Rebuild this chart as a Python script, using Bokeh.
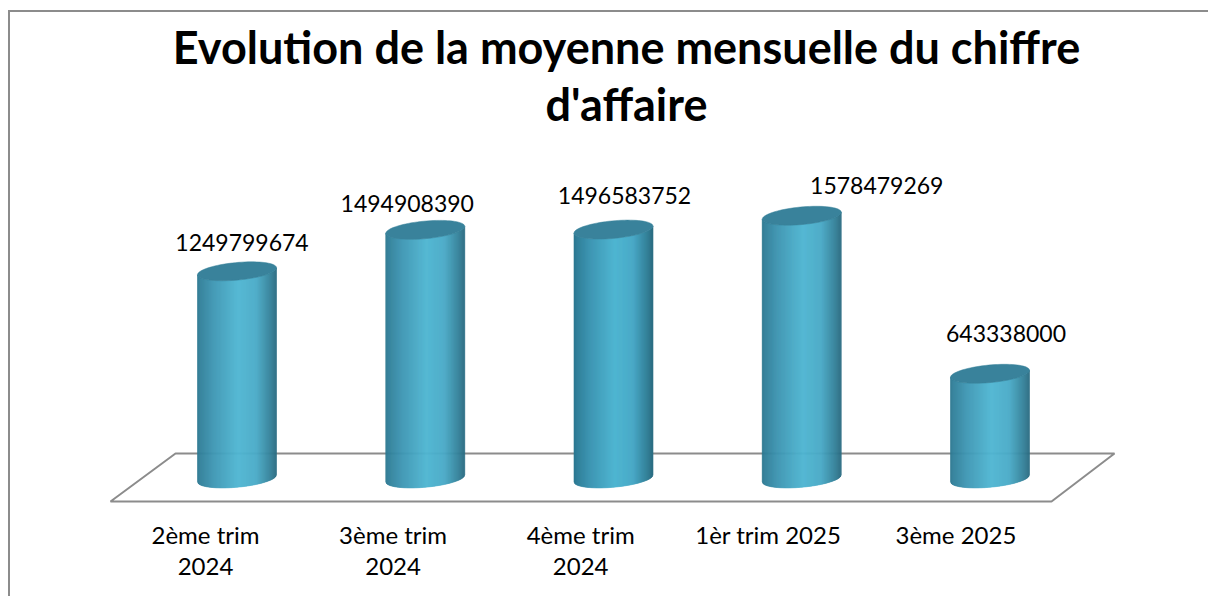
from bokeh.embed import file_html
from bokeh.resources import INLINE
from bokeh.plotting import figure
from bokeh.models import Range1d, FixedTicker, PolyAnnotation, ColumnDataSource, Title
from bokeh.core.properties import value
import numpy as np

# --- data ---
categories = ["2ème trim\n2024", "3ème trim\n2024", "4ème trim\n2024", "1èr trim 2025", "3ème 2025"]
values = [1249799674, 1494908390, 1496583752, 1578479269, 643338000]
title_lines = ["Evolution de la moyenne mensuelle du chiffre", "d'affaire"]

# --- label placement (px offsets from the top of each cylinder) ---
label_dx = [5, -18, 11, 75, 16]
label_dy = [29, 26, 34, 30, 40]

# --- layout ---
W, H = 1208, 596
FONT = "Lato"
ML, MT, MB = 44, 130, 92
PX_PER_CAT = 187.6
BAR_SPREAD = 188.25 / 187.6
PX_PER_VAL = 0.169e-6
x0 = -(205 - ML) / PX_PER_CAT
x1 = x0 + (W - ML) / PX_PER_CAT
y_base_px = 482
y_top = (y_base_px - MT) / PX_PER_VAL
y_bot = (y_base_px - (H - MB)) / PX_PER_VAL

# cylinder geometry, in screen px, turned to data units below
DEPTH_SHIFT = 31.5 / PX_PER_CAT
HALF_W = 39.5
SHEAR = 0.0886
MINOR = 8.8
FLOOR_VALUE = 24e6
STRIPS = 79
STOPS_T = [0.0, 0.04, 0.22, 0.52, 0.75, 0.93, 1.0]
STOPS_C = [(0x2c, 0x76, 0x8f), (0x31, 0x80, 0x9a), (0x3f, 0x98, 0xb5), (0x4f, 0xb6, 0xd2),
           (0x49, 0xaa, 0xc7), (0x33, 0x80, 0x98), (0x2b, 0x6c, 0x82)]
CAP = "#39829b"
GREY = "#8c8c8c"


def front(dx):
    """Screen-px distance from an ellipse centre down to its front edge."""
    return -SHEAR * dx + MINOR * np.sqrt(np.clip(1 - (dx / HALF_W) ** 2, 0, 1))


def back(dx):
    return -SHEAR * dx - MINOR * np.sqrt(np.clip(1 - (dx / HALF_W) ** 2, 0, 1))


def colour(t):
    rgb = [np.interp(t, STOPS_T, [c[i] for c in STOPS_C]) for i in range(3)]
    return "#%02x%02x%02x" % tuple(int(round(v)) for v in rgb)


p = figure(width=W, height=H, output_backend="svg", toolbar_location=None,
           x_range=Range1d(x0, x1), y_range=Range1d(y_bot, y_top),
           y_axis_location=None, min_border_left=ML, min_border_right=0,
           min_border_top=MT, min_border_bottom=MB,
           outline_line_color=None, background_fill_color=None, border_fill_color=None)
p.grid.visible = False

# the picture's own frame: a grey line along the top and the left only
line = f"linear-gradient({GREY},{GREY})"
p.styles = {
    "background-color": "white",
    "background-image": f"{line},{line}",
    "background-size": "100% 2px, 2px 100%",
    "background-position": "8px 10px, 8px 10px",
    "background-repeat": "no-repeat",
}


def style_title(t, standoff):
    t.align = "center"
    t.text_font = FONT
    t.text_font_style = "bold"
    t.text_font_size = "45px"
    t.text_color = "black"
    t.standoff = standoff


# title: one Title per line so that each line is centred
p.title.text = title_lines[0]
style_title(p.title, 2)
second = Title(text=title_lines[1])
style_title(second, 0)
p.add_layout(second, "above")

# x axis
p.xaxis.ticker = FixedTicker(ticks=list(range(len(categories))))
p.xaxis.major_label_overrides = {i: c for i, c in enumerate(categories)}
p.xaxis.axis_line_color = None
p.xaxis.major_tick_line_color = None
p.xaxis.minor_tick_line_color = None
p.xaxis.major_tick_out = 0
p.xaxis.major_tick_in = 0
p.xaxis.major_label_standoff = 15
p.xaxis.major_label_text_font = FONT
p.xaxis.major_label_text_font_size = "24px"
p.xaxis.major_label_text_color = "black"
p.xaxis.major_label_text_line_height = 1.1

# chart floor
p.add_layout(PolyAnnotation(xs=[110, 175, 1114, 1051], ys=[501, 453, 453, 501],
                            xs_units="canvas", ys_units="canvas", level="underlay",
                            fill_alpha=0, line_color=GREY, line_alpha=1, line_width=2))

# cylinders
strip_xs, strip_ys, strip_c, cap_xs, cap_ys = [], [], [], [], []
edges = np.linspace(-HALF_W, HALF_W, STRIPS + 1)
centres = [i * BAR_SPREAD + DEPTH_SHIFT for i in range(len(values))]
for cx, v in zip(centres, values):
    for a, b in zip(edges[:-1], edges[1:]):
        strip_xs.append([cx + a / PX_PER_CAT, cx + b / PX_PER_CAT, cx + b / PX_PER_CAT, cx + a / PX_PER_CAT])
        strip_ys.append([v - front(a) / PX_PER_VAL, v - front(b) / PX_PER_VAL,
                         FLOOR_VALUE - front(b) / PX_PER_VAL, FLOOR_VALUE - front(a) / PX_PER_VAL])
        strip_c.append(colour(((a + b) / 2 + HALF_W) / (2 * HALF_W)))
    d = HALF_W * np.sin(np.linspace(-np.pi / 2, np.pi / 2, 40))
    cap_xs.append(list(cx + np.r_[d, d[::-1]] / PX_PER_CAT))
    cap_ys.append(list(v - np.r_[front(d), back(d[::-1])] / PX_PER_VAL))

p.patches(strip_xs, strip_ys, fill_color=strip_c, line_color=strip_c, line_width=0.6)
p.patches(cap_xs, cap_ys, fill_color=CAP, line_color=CAP, line_width=0.5)

# value labels
src = ColumnDataSource(dict(
    x=centres, y=values,
    t=[str(v) for v in values], dx=label_dx, dy=[-d for d in label_dy]))
p.text("x", "y", text="t", source=src, x_offset="dx", y_offset="dy",
       text_align="center", text_baseline="middle",
       text_font=value(FONT), text_font_size="23px", text_color="black")

open("out.html", "w").write(file_html(p, INLINE))
